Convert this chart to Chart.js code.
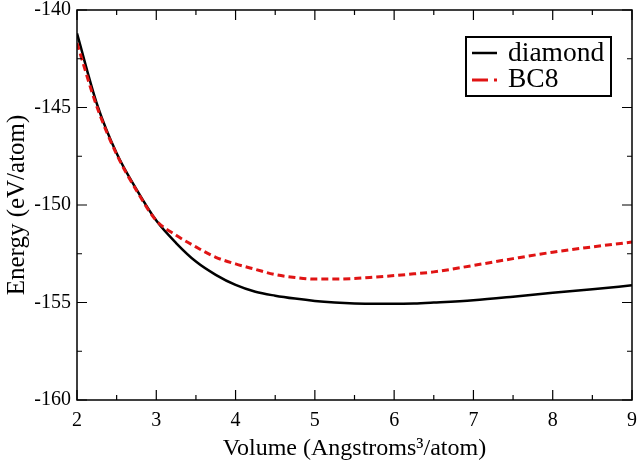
<!DOCTYPE html>
<html>
<head>
<meta charset="utf-8">
<script src="https://cdn.jsdelivr.net/npm/chart.js@4/dist/chart.umd.min.js"></script>
<style>
html,body{margin:0;padding:0;background:#fff;}
#wrap{width:638px;height:465px;position:relative;}
</style>
</head>
<body>
<div id="wrap"><canvas id="c" width="638" height="465"></canvas></div>
<script>
const volumes  = [2.0, 2.25, 2.5, 2.75, 3.0, 3.25, 3.5, 3.75, 4.0, 4.25, 4.5, 4.75, 5.0, 5.25, 5.5, 5.75, 6.0, 6.25, 6.5, 7.0, 7.5, 8.0, 8.5, 9.0];
const diamondE = [-141.2, -144.8, -147.35, -149.2, -150.8, -151.95, -152.9, -153.58, -154.1, -154.45, -154.65, -154.8, -154.92, -155.0, -155.05, -155.07, -155.07, -155.05, -155.0, -154.88, -154.7, -154.5, -154.32, -154.12];
const bc8E     = [-141.7, -144.95, -147.4, -149.25, -150.8, -151.55, -152.15, -152.68, -153.02, -153.3, -153.57, -153.72, -153.8, -153.8, -153.77, -153.7, -153.62, -153.53, -153.43, -153.1, -152.75, -152.42, -152.15, -151.9];
const seriesNames = ["diamond", "BC8"];
const xTicks = [2, 3, 4, 5, 6, 7, 8, 9];
const yTicks = [-160, -155, -150, -145, -140];
const xTitle = "Volume (Angstroms\u00B3/atom)";
const yTitle = "Energy (eV/atom)";

const FONT = "'Liberation Serif', 'DejaVu Serif', serif";
const RED = '#e01414';

const framePlugin = {
  id: 'frame',
  afterDraw(chart) {
    const {ctx, chartArea: a, scales: {x, y}} = chart;
    ctx.save();
    ctx.strokeStyle = '#000';
    ctx.lineWidth = 1.5;
    ctx.strokeRect(a.left, a.top, a.right - a.left, a.bottom - a.top);
    ctx.lineWidth = 1.2;
    ctx.beginPath();
    for (let v = 2; v <= 9.001; v += 0.5) {
      const px = x.getPixelForValue(v);
      const len = Math.abs(v - Math.round(v)) < 1e-6 ? 10 : 5;
      ctx.moveTo(px, a.bottom); ctx.lineTo(px, a.bottom - len);
      ctx.moveTo(px, a.top); ctx.lineTo(px, a.top + len);
    }
    for (let v = -160; v <= -139.99; v += 2.5) {
      const py = y.getPixelForValue(v);
      const len = Math.abs(v / 5 - Math.round(v / 5)) < 1e-6 ? 10 : 5;
      ctx.moveTo(a.left, py); ctx.lineTo(a.left + len, py);
      ctx.moveTo(a.right, py); ctx.lineTo(a.right - len, py);
    }
    ctx.stroke();

    // legend
    const bx = 466, by = 37, bw = 145, bh = 59;
    ctx.fillStyle = '#fff';
    ctx.fillRect(bx, by, bw, bh);
    ctx.lineWidth = 2;
    ctx.strokeStyle = '#000';
    ctx.strokeRect(bx, by, bw, bh);
    ctx.lineWidth = 2.5;
    ctx.beginPath(); ctx.moveTo(472, 53); ctx.lineTo(497, 53); ctx.stroke();
    ctx.strokeStyle = RED;
    ctx.lineWidth = 3;
    ctx.beginPath(); ctx.moveTo(472, 80); ctx.lineTo(488, 80); ctx.stroke();
    ctx.beginPath(); ctx.moveTo(494, 80); ctx.lineTo(497, 80); ctx.stroke();
    ctx.fillStyle = '#000';
    ctx.font = "27.5px " + FONT;
    ctx.textBaseline = 'middle';
    ctx.textAlign = 'left';
    ctx.fillText(seriesNames[0], 508, 54);
    ctx.fillText(seriesNames[1], 508, 80);
    ctx.restore();
  }
};

new Chart(document.getElementById('c'), {
  type: 'line',
  data: {
    datasets: [
      {
        label: seriesNames[1],
        data: volumes.map((v, i) => ({x: v, y: bc8E[i]})),
        borderColor: RED,
        borderWidth: 3,
        borderDash: [7, 4],
        pointRadius: 0,
        cubicInterpolationMode: 'monotone',
        order: 0
      },
      {
        label: seriesNames[0],
        data: volumes.map((v, i) => ({x: v, y: diamondE[i]})),
        borderColor: '#000',
        borderWidth: 2.5,
        pointRadius: 0,
        cubicInterpolationMode: 'monotone',
        order: 1
      }
    ]
  },
  options: {
    responsive: false,
    animation: false,
    devicePixelRatio: 1,
    layout: {padding: {top: 10, right: 4, left: 0, bottom: 0}},
    plugins: {legend: {display: false}, tooltip: {enabled: false}},
    scales: {
      x: {
        type: 'linear', min: 2, max: 9,
        afterBuildTicks(s) { s.ticks = xTicks.map(v => ({value: v})); },
        afterFit(s) { s.height = 65; },
        grid: {display: false},
        border: {display: false},
        ticks: {color: '#000', font: {family: FONT, size: 20}, padding: 1, maxRotation: 0},
        title: {display: true, text: xTitle, color: '#000', font: {family: FONT, size: 24}, padding: {top: 0, bottom: 2}}
      },
      y: {
        type: 'linear', min: -160, max: -140,
        afterBuildTicks(s) { s.ticks = yTicks.map(v => ({value: v})); },
        afterFit(s) { s.width = 77; },
        grid: {display: false},
        border: {display: false},
        ticks: {color: '#000', font: {family: FONT, size: 20}, padding: -2},
        title: {display: true, text: yTitle, color: '#000', font: {family: FONT, size: 25}, padding: {top: 2, bottom: 0}}
      }
    }
  },
  plugins: [framePlugin]
});
</script>
</body>
</html>
